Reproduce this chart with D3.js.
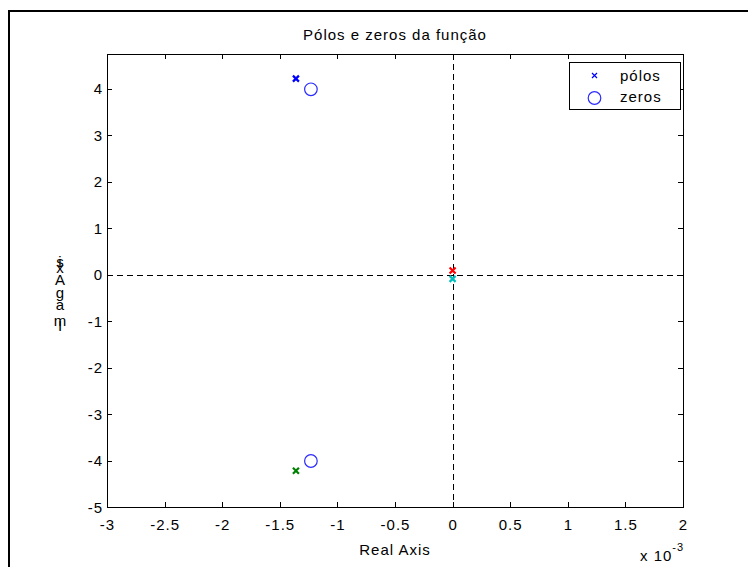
<!DOCTYPE html>
<html>
<head>
<meta charset="utf-8">
<script src="https://d3js.org/d3.v7.min.js"></script>
<style>
  body { margin: 0; background: #fff; }
  text { font-family: "Liberation Sans", Arial, sans-serif; font-size: 15px; letter-spacing: 1px; }
</style>
</head>
<body>
<div id="vis-container"></div>
<script>
// pole / zero locations (real part in units of 1e-3)
const polesRe = [-1.36, -1.36, 0.0, 0.0];
const polesIm = [4.22, -4.22, 0.09, -0.09];
const poleColors = ["#0000ff", "#008000", "#ff0000", "#00bfbf"];
const zerosRe = [-1.23, -1.23];
const zerosIm = [3.99, -4.01];
const xTicks = [-3, -2.5, -2, -1.5, -1, -0.5, 0, 0.5, 1, 1.5, 2];
const yTicks = [-5, -4, -3, -2, -1, 0, 1, 2, 3, 4];
const legendLabels = ["pólos", "zeros"];

const width = 748, height = 567;
const mLeft = 107, mRight = 683, mTop = 54, mBottom = 507;

const svg = d3.select("#vis-container").append("svg")
  .attr("width", width).attr("height", height);

// outer figure frame (only top and left edges visible)
svg.append("path")
  .attr("d", `M9,${height + 5}V11H${width + 5}`)
  .attr("fill", "none").attr("stroke", "#000").attr("stroke-width", 2);

const x = d3.scaleLinear().domain([-3, 2]).range([mLeft, mRight]);
const y = d3.scaleLinear().domain([-5, 4.75]).range([mBottom, mTop]);

// axes box
svg.append("rect")
  .attr("x", mLeft + 0.5).attr("y", mTop + 0.5)
  .attr("width", mRight - mLeft).attr("height", mBottom - mTop)
  .attr("fill", "none").attr("stroke", "#000").attr("stroke-width", 1);

// inward ticks on all sides
const tk = 5;
xTicks.forEach(t => {
  const px = Math.round(x(t)) + 0.5;
  svg.append("line").attr("x1", px).attr("x2", px).attr("y1", mBottom).attr("y2", mBottom - tk).attr("stroke", "#000");
  svg.append("line").attr("x1", px).attr("x2", px).attr("y1", mTop).attr("y2", mTop + tk).attr("stroke", "#000");
  svg.append("text").attr("x", x(t) + 0.5).attr("y", mBottom + 23)
    .attr("text-anchor", "middle").text(t);
});
yTicks.forEach(t => {
  const py = Math.round(y(t)) + 0.5;
  svg.append("line").attr("x1", mLeft).attr("x2", mLeft + tk).attr("y1", py).attr("y2", py).attr("stroke", "#000");
  svg.append("line").attr("x1", mRight).attr("x2", mRight - tk).attr("y1", py).attr("y2", py).attr("stroke", "#000");
  svg.append("text").attr("x", mLeft - 4).attr("y", y(t) + 5.5)
    .attr("text-anchor", "end").text(t);
});

// dashed zero lines
svg.append("line")
  .attr("x1", mLeft).attr("x2", mRight).attr("y1", Math.round(y(0)) + 0.5).attr("y2", Math.round(y(0)) + 0.5)
  .attr("stroke", "#000").attr("stroke-dasharray", "6,4");
svg.append("line")
  .attr("x1", Math.round(x(0)) + 0.5).attr("x2", Math.round(x(0)) + 0.5).attr("y1", mTop).attr("y2", mBottom)
  .attr("stroke", "#000").attr("stroke-dasharray", "6,4");

// poles as crosses
const cross = (g, cx, cy, s, color, w) => {
  g.append("path")
    .attr("d", `M${cx - s},${cy - s}L${cx + s},${cy + s}M${cx - s},${cy + s}L${cx + s},${cy - s}`)
    .attr("stroke", color).attr("stroke-width", w).attr("fill", "none");
};
polesRe.forEach((re, i) => {
  cross(svg, x(re), y(polesIm[i]), 3, poleColors[i], 2.2);
});

// zeros as circles
zerosRe.forEach((re, i) => {
  svg.append("circle").attr("cx", x(re)).attr("cy", y(zerosIm[i])).attr("r", 6.3)
    .attr("fill", "none").attr("stroke", "#2b2bff").attr("stroke-width", 1.2);
});

// legend
const lg = svg.append("g");
lg.append("rect").attr("x", 569.5).attr("y", 62.5).attr("width", 111).attr("height", 47)
  .attr("fill", "#fff").attr("stroke", "#000");
cross(lg, 594.5, 75.5, 2.5, "#0000ff", 1.2);
lg.append("circle").attr("cx", 594.5).attr("cy", 98).attr("r", 6.3)
  .attr("fill", "none").attr("stroke", "#2b2bff").attr("stroke-width", 1.2);
lg.append("text").attr("x", 620).attr("y", 81).text(legendLabels[0]);
lg.append("text").attr("x", 620).attr("y", 102).text(legendLabels[1]);

// title and axis labels
svg.append("text").attr("x", (mLeft + mRight) / 2).attr("y", 40)
  .attr("text-anchor", "middle").text("Pólos e zeros da função");
svg.append("text").attr("x", (mLeft + mRight) / 2).attr("y", 555)
  .attr("text-anchor", "middle").text("Real Axis");

// exponent label
const ex = svg.append("text").attr("x", 640).attr("y", 561);
ex.append("tspan").text("x 10");
ex.append("tspan").attr("dy", -10).attr("font-size", 11).text("-3");

// y label, characters stacked upright
const yChars = [["I", 331], ["m", 326], ["a", 310], ["g", 298], ["A", 285], ["x", 273], ["i", 267], ["s", 267]];
const yl = svg.append("g");
yChars.forEach(([c, by]) => {
  yl.append("text").attr("x", 60).attr("y", by).attr("text-anchor", "middle")
    .style("letter-spacing", "0px").text(c);
});
</script>
</body>
</html>
